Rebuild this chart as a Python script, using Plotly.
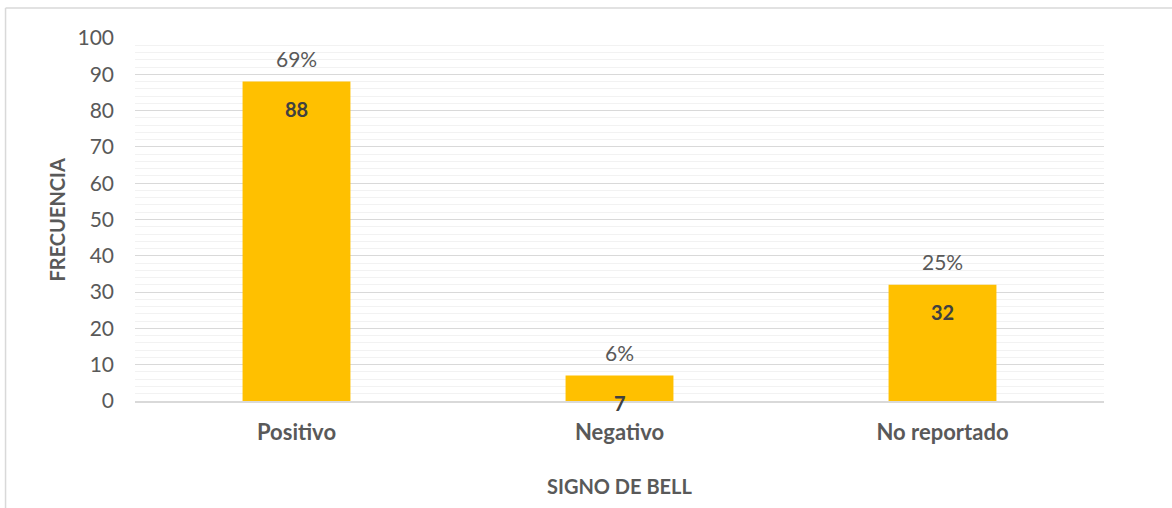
import plotly.graph_objects as go

categories = ["Positivo", "Negativo", "No reportado"]
counts = [88, 7, 32]
percent_labels = ["69%", "6%", "25%"]
y_ticks = [0, 10, 20, 30, 40, 50, 60, 70, 80, 90, 100]

FONT = "Lato"
BAR = "#FFC000"
GRAY = "#595959"
DARK = "#404040"

fig = go.Figure()
fig.add_trace(go.Bar(
    x=categories, y=counts, marker=dict(color=BAR, line=dict(width=0)),
    hoverinfo="skip", showlegend=False,
))

annotations = []
for c, v, p in zip(categories, counts, percent_labels):
    annotations.append(dict(x=c, y=v, xref="x", yref="y", text=p, showarrow=False,
                            yshift=23, font=dict(family=FONT, size=21, color=GRAY)))
    annotations.append(dict(x=c, y=v, xref="x", yref="y", text=str(v), showarrow=False,
                            yshift=-27, font=dict(family=FONT, size=20, color=DARK, weight="bold")))

annotations.append(dict(x=-0.0805, y=0.5, xref="paper", yref="paper", text="FRECUENCIA",
                        textangle=-90, showarrow=False, xanchor="center", yanchor="middle",
                        font=dict(family=FONT, size=20, color=GRAY, weight="bold")))
annotations.append(dict(x=0.5, y=-0.234, xref="paper", yref="paper", text="SIGNO DE BELL",
                        showarrow=False, xanchor="center", yanchor="middle",
                        font=dict(family=FONT, size=20, color=GRAY, weight="bold")))

shapes = [
    dict(type="line", xref="paper", yref="paper", x0=-0.1336, x1=1.1, y0=1.0826, y1=1.0826,
         line=dict(color="#D9D9D9", width=1.5)),
    dict(type="line", xref="paper", yref="paper", x0=-0.1336, x1=-0.1336, y0=1.0826, y1=-0.31,
         line=dict(color="#D9D9D9", width=1.5)),
]

fig.update_layout(
    width=1172, height=508,
    margin=dict(l=135, r=68, t=38, b=107, autoexpand=False),
    paper_bgcolor="white", plot_bgcolor="white",
    bargap=0.666,
    annotations=annotations, shapes=shapes,
    font=dict(family=FONT, color=GRAY),
)
fig.update_xaxes(
    showgrid=False, showline=True, linecolor="#D9D9D9", linewidth=1.5,
    ticks="", ticklabelstandoff=11,
    tickfont=dict(family=FONT, size=22, color=GRAY, weight="bold"),
)
fig.update_yaxes(
    range=[0, 100], tickvals=y_ticks, showgrid=True, gridcolor="#D9D9D9", gridwidth=1.2,
    zeroline=False, showline=False, ticks="", ticklabelstandoff=20,
    tickfont=dict(family=FONT, size=21, color=GRAY),
    minor=dict(dtick=2, showgrid=True, gridcolor="#F2F2F2", gridwidth=1.2),
)

fig.write_html("out.html", config={"displayModeBar": False},
               post_script="document.body.style.margin='0';document.body.style.overflow='hidden';")
